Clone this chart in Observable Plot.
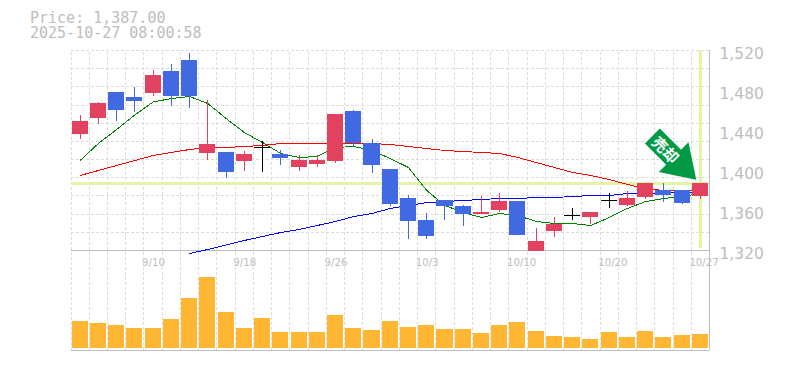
<!DOCTYPE html>
<html><head><meta charset="utf-8">
<script src="https://cdn.jsdelivr.net/npm/d3@7"></script>
<script src="https://cdn.jsdelivr.net/npm/@observablehq/plot@0.6"></script>
<style>
html,body{margin:0;padding:0;background:#fff}
#wrap{position:relative;width:785px;height:370px;overflow:hidden}
#wrap svg{position:absolute;left:0;background:none;overflow:visible}
#t{position:absolute;left:30px;top:10.5px;font:15px/15px "DejaVu Sans Mono",monospace;color:#bdbdbd;white-space:pre}
</style></head><body>
<div id="wrap"><div id="t"></div></div>
<script>
const titleLines = ["Price: 1,387.00","2025-10-27 08:00:58"];
const dayIndex = d3.range(35);
const tickIndex = [4,9,14,19,24,29,34];
const tickLabels = ["9/10","9/18","9/26","10/3","10/10","10/20","10/27"];
const priceTicks = [1320,1360,1400,1440,1480,1520];
const lastPrice = 1387;
const bodyTop = [1449,1467,1478,1473,1495,1499,1510,1426,1418,1416,1422.7,1416,1410,1410,1456,1459,1427,1401,1372,1350,1370,1364,1358,1369,1369,1329,1346,1354.7,1358,1370,1372,1387,1380,1380,1387];
const bodyBot = [1436,1452,1460,1469,1477,1474,1474,1417,1398,1409,1422.7,1412,1403,1406,1409,1427,1405,1366,1349,1334,1364,1356,1356,1360,1335,1319,1339,1354.7,1353,1370,1365,1373,1375,1367,1374];
const high = [1455,1468,1478,1483,1500,1506,1517,1470,1418,1419,1429,1420,1415,1415,1456,1460,1431,1401,1375,1357,1370,1365,1374,1377,1369,1342,1353,1362,1358,1377,1379,1387,1387,1380,1387];
const low = [1431,1446,1449,1458,1474,1464,1462,1410,1392,1399,1398,1405,1399,1403,1407,1424,1397,1364,1331,1331,1350,1344,1356,1358,1335,1319,1333,1350,1346,1362,1364,1371,1368,1366,1371];
const kinds = "rrbbrbbrbrkbrrrbbbbbbbrrbrrkrkrrbbr".split("");
const ma5 = [1410,1427,1441,1455.5,1468.5,1472,1474,1467,1452,1438,1428,1417,1413,1414,1423,1424,1420,1412,1403,1380,1365,1358,1353,1357,1355,1349,1347,1347,1345,1353,1362,1369,1372,1374,1377];
const ma25 = [1395,1400,1405,1410,1415,1418,1421,1423,1423,1424,1425,1427,1427,1427,1427,1427,1427,1426,1424,1422,1420,1419,1418,1417,1413,1408,1403,1398,1395,1391,1386,1382,1380,1380,1380];
const ma75 = [null,null,null,null,null,null,1317,1321,1325.5,1330,1334,1338,1341,1345,1349,1354,1357,1362,1365,1368,1369,1370,1371,1372,1372,1373,1373,1374,1375,1375,1377,1377,1378,1378,1378];
const volume = [27,25,23,20,20,29,50,71,36,20,30,16,16,16,33,20,18,27,21,23,19,19,15,23,26,17,12,11,9,16,11,17,11,13,14];

const RED="#e2425f", BLUE="#4169e1", GRID="#dcdcdc", AXIS="#bdbdbd", HL="#e3f5a5";
const colors = {r:RED,b:BLUE,k:"#000"};
const candles = dayIndex.map(i=>({i,top:bodyTop[i],bot:bodyBot[i],hi:high[i],lo:low[i],kind:kinds[i],v:volume[i]}));
const solid = candles.filter(d=>d.kind!=="k");
const doji = candles.filter(d=>d.kind==="k");
const xDomain=[-0.5,34.5], xRange=[70.5,709];
const series = a => dayIndex.filter(i=>a[i]!=null).map(i=>({i,v:a[i]}));
const gridX = d3.range(-0.5,34.5,1);
const gridY = d3.range(0,11).map(k=>1520-k*200/11);
const arrowShape = {draw(c,l){
  const hw=21,sw=10.5,hl=32;
  c.moveTo(0,-l);c.lineTo(hw,-l+hl);c.lineTo(sw,-l+hl);c.lineTo(sw,0);c.lineTo(-sw,0);c.lineTo(-sw,-l+hl);c.lineTo(-hw,-l+hl);c.closePath();
}};
document.getElementById("t").textContent = titleLines.join("\n");

const price = Plot.plot({
  width:785,height:250,marginTop:50,marginBottom:0,marginLeft:0,marginRight:0,
  style:{background:"none",overflow:"visible"},
  x:{type:"linear",domain:xDomain,range:xRange,axis:null},
  y:{domain:[1320,1520],range:[250,50],axis:null},
  marks:[
    Plot.ruleX(gridX,{x:d=>d,y1:1320,y2:1520,stroke:GRID,strokeDasharray:"3,2",shapeRendering:"crispEdges"}),
    Plot.ruleY(gridY,{y:d=>d,x1:-0.5,x2:34.5,stroke:GRID,strokeDasharray:"3,2",shapeRendering:"crispEdges"}),
    Plot.ruleY([lastPrice],{x1:-0.5,x2:34.5,stroke:HL,strokeWidth:3,shapeRendering:"crispEdges"}),
    Plot.ruleX([34],{y1:1322,y2:1520,stroke:HL,strokeWidth:3,shapeRendering:"crispEdges"}),
    Plot.ruleY([1320],{x1:-0.5,x2:34.5,stroke:AXIS,strokeWidth:1,shapeRendering:"crispEdges"}),
    Plot.ruleX([34.5],{y1:1320,y2:1520,stroke:AXIS,strokeWidth:1,shapeRendering:"crispEdges"}),
    Plot.line(series(ma5),{x:"i",y:"v",stroke:"#008000",strokeWidth:1,shapeRendering:"crispEdges"}),
    Plot.line(series(ma25),{x:"i",y:"v",stroke:"#ff0000",strokeWidth:1,shapeRendering:"crispEdges"}),
    Plot.line(series(ma75),{x:"i",y:"v",stroke:"#0000ff",strokeWidth:1,shapeRendering:"crispEdges"}),
    Plot.ruleX(candles,{x:"i",y1:"lo",y2:"hi",stroke:d=>colors[d.kind],strokeWidth:1,shapeRendering:"crispEdges"}),
    Plot.rect(solid,{x1:d=>d.i-0.44,x2:d=>d.i+0.44,y1:"bot",y2:"top",fill:d=>colors[d.kind],shapeRendering:"crispEdges"}),
    Plot.rect(doji,{x1:d=>d.i-0.44,x2:d=>d.i+0.44,y1:d=>d.top,y2:d=>d.top-1,fill:"#000",shapeRendering:"crispEdges"}),
    Plot.vector([{i:31.37,p:1434.5}],{x:"i",y:"p",length:62,rotate:135,anchor:"start",shape:arrowShape,fill:"#009944",stroke:"none"}),
    Plot.text(["売却"],{x:[32.05],y:[1420],rotate:45,fill:"#fff",fontSize:15,fontWeight:"bold",fontFamily:"Noto Sans CJK JP"}),
    Plot.text(priceTicks,{x:34.5,y:d=>d,dx:10,dy:4,text:d=>d3.format(",")(d),textAnchor:"start",fill:AXIS,fontSize:15.5,fontFamily:"DejaVu Sans"}),
    Plot.text(tickIndex,{x:d=>d,y:1320,dx:-11,dy:12.5,text:(d,i)=>tickLabels[i],textAnchor:"start",fill:AXIS,fontSize:10.2,fontFamily:"DejaVu Sans"})
  ]
});
price.style.top="0px";
const vol = Plot.plot({
  width:785,height:100,marginTop:0,marginBottom:0,marginLeft:0,marginRight:0,
  style:{background:"none"},
  x:{type:"linear",domain:xDomain,range:xRange,axis:null},
  y:{domain:[-2,98],range:[100,0],axis:null},
  marks:[
    Plot.ruleX(gridX,{x:d=>d,y1:-2,y2:98,stroke:GRID,strokeDasharray:"3,2",shapeRendering:"crispEdges"}),
    Plot.rect(candles,{x1:d=>d.i-0.44,x2:d=>d.i+0.44,y1:0,y2:"v",fill:"#ffb733",shapeRendering:"crispEdges"}),
    Plot.ruleY([-2],{x1:-0.5,x2:34.5,stroke:AXIS,strokeWidth:1.5,shapeRendering:"crispEdges"}),
    Plot.ruleX([34.5],{y1:-2,y2:98,stroke:AXIS,strokeWidth:1,shapeRendering:"crispEdges"})
  ]
});
vol.style.top="250px";
const wrap=document.getElementById("wrap");
wrap.appendChild(price);wrap.appendChild(vol);
</script></body></html>
